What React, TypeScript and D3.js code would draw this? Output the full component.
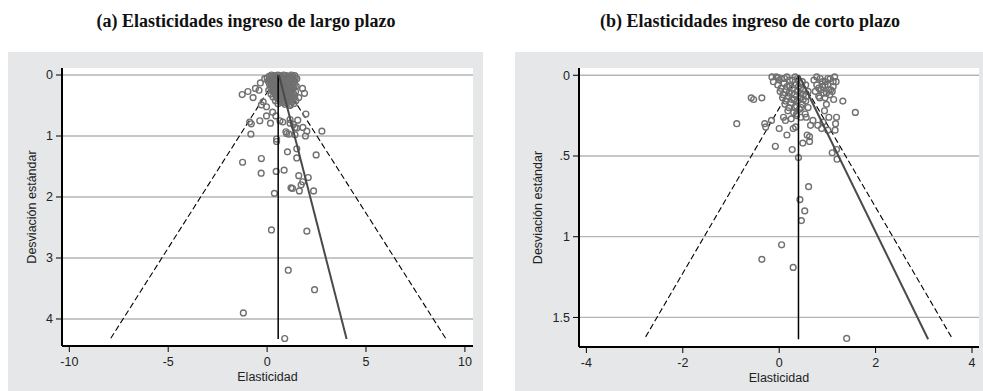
import * as d3 from "d3";
import React from "react";

// ---- data: (elasticity, standard error) pairs ----
const pointsA: [number, number][] = [
  // dense cluster near the top
  [0.10, 0.02], [0.35, 0.01], [0.55, 0.0], [0.72, 0.02], [0.95, 0.01], [1.15, 0.03], [1.3, 0.02],
  [0.0, 0.05], [0.22, 0.04], [0.48, 0.05], [0.63, 0.04], [0.85, 0.06], [1.05, 0.05], [1.25, 0.07], [1.42, 0.05],
  [0.05, 0.1], [0.28, 0.09], [0.45, 0.11], [0.66, 0.08], [0.8, 0.1], [1.0, 0.12], [1.18, 0.1], [1.38, 0.11],
  [0.12, 0.15], [0.33, 0.14], [0.52, 0.16], [0.74, 0.14], [0.92, 0.17], [1.1, 0.15], [1.28, 0.16], [1.47, 0.18],
  [0.18, 0.2], [0.4, 0.21], [0.58, 0.19], [0.78, 0.22], [0.98, 0.2], [1.16, 0.23], [1.35, 0.21],
  [0.08, 0.25], [0.27, 0.26], [0.47, 0.24], [0.68, 0.27], [0.88, 0.25], [1.07, 0.28], [1.24, 0.26], [1.44, 0.27],
  [0.2, 0.31], [0.38, 0.3], [0.6, 0.32], [0.82, 0.31], [1.02, 0.33], [1.2, 0.3], [1.4, 0.34],
  [0.3, 0.36], [0.5, 0.37], [0.72, 0.35], [0.93, 0.38], [1.12, 0.36], [1.32, 0.39],
  [0.42, 0.42], [0.65, 0.41], [0.86, 0.43], [1.05, 0.41], [1.25, 0.44], [1.45, 0.42],
  [0.55, 0.47], [0.9, 0.48], [1.15, 0.5], [1.35, 0.47],
  [0.22, 0.0], [0.45, 0.02], [0.62, 0.01], [0.84, 0.0], [1.05, 0.02], [1.22, 0.0], [1.4, 0.01],
  [0.12, 0.07], [0.36, 0.06], [0.56, 0.07], [0.74, 0.06], [0.95, 0.08], [1.15, 0.06], [1.33, 0.08],
  [0.18, 0.12], [0.38, 0.13], [0.58, 0.12], [0.7, 0.11], [0.88, 0.13], [1.08, 0.12], [1.28, 0.13],
  [0.24, 0.17], [0.44, 0.18], [0.64, 0.17], [0.84, 0.19], [1.02, 0.18], [1.2, 0.19], [1.38, 0.16],
  [0.3, 0.23], [0.52, 0.22], [0.7, 0.23], [0.9, 0.22], [1.1, 0.24], [1.3, 0.23],
  [0.36, 0.28], [0.57, 0.28], [0.78, 0.29], [0.96, 0.27], [1.15, 0.28], [1.33, 0.3],
  [0.46, 0.33], [0.7, 0.33], [0.9, 0.34], [1.1, 0.32], [1.28, 0.35],
  [0.6, 0.39], [0.82, 0.39], [1.0, 0.4], [1.2, 0.4],
  [0.75, 0.45], [1.0, 0.46], [1.2, 0.48],
  // scattered studies
  [-1.26, 0.32], [-0.97, 0.27], [-0.59, 0.22], [-0.71, 0.37], [-0.41, 0.25], [-0.34, 0.13], [-0.12, 0.06],
  [1.5, 0.06], [1.79, 0.22], [1.89, 0.3], [1.6, 0.37], [-0.29, 0.49], [-0.03, 0.52], [1.96, 0.64],
  [-0.03, 0.67], [0.28, 0.61], [0.44, 0.67], [-0.37, 0.75], [0.17, 0.79], [-0.88, 0.77], [-0.8, 0.8],
  [-0.82, 0.97], [0.79, 0.77], [1.16, 0.79], [1.55, 0.74], [1.41, 0.86], [1.81, 0.86], [2.01, 0.92],
  [2.77, 0.92], [0.95, 0.93], [1.11, 0.97], [1.41, 0.98], [1.94, 1.0], [0.48, 1.05], [0.48, 1.09],
  [-1.24, 1.43], [-0.29, 1.37], [1.03, 1.26], [1.5, 1.21], [1.5, 1.36], [2.48, 1.31], [-0.3, 1.61],
  [0.46, 1.58], [0.86, 1.56], [1.6, 1.65], [2.08, 1.68], [1.8, 1.75], [1.72, 1.8], [1.21, 1.85],
  [1.28, 1.86], [1.63, 1.9], [2.35, 1.9], [0.37, 1.94], [0.22, 2.54], [2.01, 2.56], [1.07, 3.2],
  [2.4, 3.52], [-1.2, 3.9], [0.89, 4.32], [0.65, 0.75], [1.16, 0.73], [1.33, 0.81], [-0.2, 0.44],
  [0.99, 0.96], [1.5, 0.87],
];

const pointsB: [number, number][] = [
  // left lump of the cluster
  [-0.15, 0.01], [-0.12, 0.04], [-0.06, 0.01], [0.05, 0.02], [0.16, 0.01], [0.28, 0.03], [0.38, 0.02], [0.48, 0.04],
  [-0.03, 0.06], [0.1, 0.05], [0.22, 0.07], [0.33, 0.06], [0.44, 0.08], [0.55, 0.06],
  [0.02, 0.1], [0.14, 0.09], [0.26, 0.11], [0.38, 0.1], [0.5, 0.12], [0.6, 0.1],
  [0.07, 0.14], [0.19, 0.13], [0.31, 0.15], [0.43, 0.14], [0.55, 0.16],
  [0.12, 0.18], [0.24, 0.17], [0.36, 0.19], [0.48, 0.18], [0.6, 0.2],
  [0.18, 0.22], [0.3, 0.23], [0.42, 0.21], [0.54, 0.24], [0.25, 0.27], [0.45, 0.26],
  [0.0, 0.03], [0.11, 0.02], [0.22, 0.03], [0.33, 0.01], [0.43, 0.05],
  [0.04, 0.08], [0.16, 0.07], [0.28, 0.08], [0.4, 0.07], [0.5, 0.09],
  [0.08, 0.12], [0.2, 0.11], [0.32, 0.12], [0.44, 0.11], [0.56, 0.13],
  [0.13, 0.16], [0.26, 0.15], [0.38, 0.16], [0.5, 0.15],
  [0.2, 0.2], [0.33, 0.2], [0.46, 0.2], [0.36, 0.24],
  // right lump of the cluster
  [0.72, 0.03], [0.85, 0.02], [0.96, 0.04], [1.06, 0.02], [1.15, 0.01], [1.18, 0.04],
  [0.78, 0.06], [0.9, 0.07], [1.01, 0.06], [1.12, 0.07],
  [0.75, 0.1], [0.87, 0.09], [0.98, 0.11], [1.1, 0.1],
  [0.82, 0.13], [0.95, 0.14], [1.05, 0.12],
  [0.78, 0.01], [0.9, 0.04], [1.01, 0.02], [1.12, 0.04],
  [0.82, 0.08], [0.95, 0.06], [1.07, 0.09], [0.92, 0.11], [1.03, 0.09],
  // scattered studies
  [-0.02, 0.015], [-0.58, 0.14], [-0.53, 0.15], [-0.36, 0.14], [-0.88, 0.3], [-0.3, 0.3], [-0.28, 0.32],
  [-0.16, 0.28], [0.09, 0.26], [0.13, 0.28], [0.0, 0.33], [0.29, 0.33], [0.34, 0.32], [0.16, 0.37],
  [-0.08, 0.44], [0.27, 0.46], [0.4, 0.51], [0.49, 0.42], [0.58, 0.37], [0.63, 0.41], [0.63, 0.38],
  [0.65, 0.31], [0.8, 0.31], [0.88, 0.33], [1.01, 0.34], [1.16, 0.34], [1.17, 0.3], [1.19, 0.26],
  [1.03, 0.26], [1.13, 0.15], [1.32, 0.16], [1.58, 0.23], [1.1, 0.48], [1.19, 0.46], [1.2, 0.52],
  [0.61, 0.69], [0.43, 0.77], [0.53, 0.84], [0.46, 0.9], [0.05, 1.05], [-0.36, 1.14], [0.29, 1.19],
  [1.4, 1.63], [0.94, 0.22], [0.98, 0.18], [0.84, 0.14], [0.36, 0.25], [0.56, 0.26], [0.7, 0.28],
  [0.91, 0.29],
];

// line end points: [elasticity, se]
const meanLineA: [number, number][] = [[0.56, 0], [0.56, 4.33]];
const leftBoundA: [number, number][] = [[0.56, 0], [-7.93, 4.33]];
const rightBoundA: [number, number][] = [[0.56, 0], [9.05, 4.33]];
const fitLineA: [number, number][] = [[0.6, 0], [4.02, 4.33]];

const meanLineB: [number, number][] = [[0.4, 0], [0.4, 1.635]];
const leftBoundB: [number, number][] = [[0.4, 0], [-2.8, 1.635]];
const rightBoundB: [number, number][] = [[0.4, 0], [3.6, 1.635]];
const fitLineB: [number, number][] = [[0.41, 0], [3.09, 1.635]];

const xTicksA = [-10, -5, 0, 5, 10];
const yTicksA = [0, 1, 2, 3, 4];
const yTickLabelsA = ["0", "1", "2", "3", "4"];
const xTicksB = [-4, -2, 0, 2, 4];
const yTicksB = [0, 0.5, 1, 1.5];
const yTickLabelsB = ["0", ".5", "1", "1.5"];

const titleA = "(a) Elasticidades ingreso de largo plazo";
const titleB = "(b) Elasticidades ingreso de corto plazo";
const xLabel = "Elasticidad";
const yLabel = "Desviación estándar";

const SANS = "'Liberation Sans', Arial, sans-serif";

interface PanelProps {
  box: [number, number, number, number]; // x0, y0, x1, y1 of gray panel
  plot: [number, number, number, number]; // plot area
  xDomain: [number, number];
  yDomain: [number, number];
  xTicks: number[];
  yTicks: number[];
  yTickLabels: string[];
  points: [number, number][];
  meanLine: [number, number][];
  leftBound: [number, number][];
  rightBound: [number, number][];
  fitLine: [number, number][];
  title: string;
  titleX: number;
  yLabelX: number;
}

const Panel = (p: PanelProps) => {
  const [px0, py0, px1, py1] = p.plot;
  const x = d3.scaleLinear().domain(p.xDomain).range([px0, px1]);
  const y = d3.scaleLinear().domain(p.yDomain).range([py0, py1]);
  const line = d3
    .line<[number, number]>()
    .x((d) => x(d[0]))
    .y((d) => y(d[1]));
  const [bx0, by0, bx1, by1] = p.box;
  const midY = (py0 + py1) / 2;

  return (
    <g>
      <text
        x={p.titleX}
        y={27}
        textAnchor="middle"
        fontFamily="'Liberation Serif', 'Times New Roman', serif"
        fontWeight="bold"
        fontSize={18}
        fill="#111"
      >
        {p.title}
      </text>
      <rect x={bx0} y={by0} width={bx1 - bx0} height={by1 - by0} fill="#e6e7e9" />
      <rect x={px0} y={py0} width={px1 - px0} height={py1 - py0} fill="#fff" />
      {p.yTicks.map((t) => (
        <line key={"g" + t} x1={px0} x2={px1} y1={y(t)} y2={y(t)} stroke="#b5b5b5" strokeWidth={1.3} />
      ))}
      <path d={line(p.leftBound) ?? ""} fill="none" stroke="#000" strokeWidth={1.1} strokeDasharray="6,3" />
      <path d={line(p.rightBound) ?? ""} fill="none" stroke="#000" strokeWidth={1.1} strokeDasharray="6,3" />
      {p.points.map((d, i) => (
        <circle
          key={i}
          cx={x(d[0])}
          cy={y(d[1])}
          r={2.9}
          fill="none"
          stroke="#707070"
          strokeWidth={1.4}
        />
      ))}
      <path d={line(p.meanLine) ?? ""} fill="none" stroke="#000" strokeWidth={1.5} />
      <path d={line(p.fitLine) ?? ""} fill="none" stroke="#4a4a4a" strokeWidth={2} />
      {/* axes */}
      <line x1={px0} x2={px0} y1={py0} y2={py1} stroke="#000" strokeWidth={2} />
      <line x1={px0} x2={px1} y1={py1} y2={py1} stroke="#000" strokeWidth={2} />
      {p.yTicks.map((t, i) => (
        <g key={"y" + t}>
          <line x1={px0 - 6} x2={px0} y1={y(t)} y2={y(t)} stroke="#000" strokeWidth={1} />
          <text
            x={px0 - 9}
            y={y(t)}
            dy="0.35em"
            textAnchor="end"
            fontFamily={SANS}
            fontSize={12.5}
            fill="#222"
          >
            {p.yTickLabels[i]}
          </text>
        </g>
      ))}
      {p.xTicks.map((t) => (
        <g key={"x" + t}>
          <line x1={x(t)} x2={x(t)} y1={py1} y2={py1 + 6} stroke="#000" strokeWidth={1} />
          <text
            x={x(t)}
            y={py1 + 20}
            textAnchor="middle"
            fontFamily={SANS}
            fontSize={12.5}
            fill="#222"
          >
            {d3.format("")(t).replace("−", "-")}
          </text>
        </g>
      ))}
      <text
        x={(px0 + px1) / 2}
        y={py1 + 35}
        textAnchor="middle"
        fontFamily={SANS}
        fontSize={12.5}
        fill="#222"
      >
        {xLabel}
      </text>
      <text
        transform={`translate(${p.yLabelX},${midY}) rotate(-90)`}
        textAnchor="middle"
        fontFamily={SANS}
        fontSize={12.5}
        fill="#222"
      >
        {yLabel}
      </text>
    </g>
  );
};

export default function App() {
  return (
    <svg
      width={983}
      height={391}
      style={{ position: "absolute", left: 0, top: 0, background: "#fff" }}
    >
      <Panel
        box={[8, 52, 483, 391]}
        plot={[62, 68, 473, 346]}
        xDomain={[-10.37, 10.41]}
        yDomain={[-0.115, 4.443]}
        xTicks={xTicksA}
        yTicks={yTicksA}
        yTickLabels={yTickLabelsA}
        points={pointsA}
        meanLine={meanLineA}
        leftBound={leftBoundA}
        rightBound={rightBoundA}
        fitLine={fitLineA}
        title={titleA}
        titleX={246}
        yLabelX={36}
      />
      <Panel
        box={[515, 52, 983, 391]}
        plot={[579, 68, 979, 347]}
        xDomain={[-4.153, 4.145]}
        yDomain={[-0.045, 1.683]}
        xTicks={xTicksB}
        yTicks={yTicksB}
        yTickLabels={yTickLabelsB}
        points={pointsB}
        meanLine={meanLineB}
        leftBound={leftBoundB}
        rightBound={rightBoundB}
        fitLine={fitLineB}
        title={titleB}
        titleX={750}
        yLabelX={542}
      />
    </svg>
  );
}
